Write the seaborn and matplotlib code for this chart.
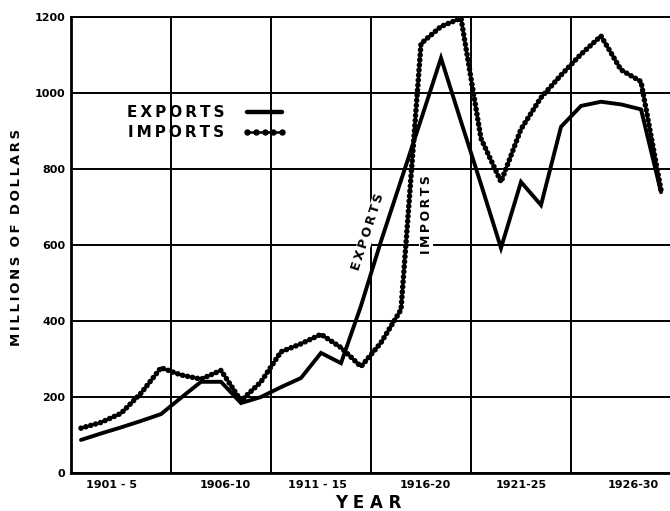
import matplotlib
matplotlib.use("Agg")
import matplotlib.pyplot as plt
from matplotlib.lines import Line2D
import pandas as pd
import seaborn as sns

# Annual merchandise trade, millions of dollars
years = list(range(1901, 1931))
exports = [87, 104, 120, 137, 155, 198, 240, 240, 184, 200,
           226, 250, 316, 289, 440, 610, 770, 930, 1092, 925,
           760, 592, 766, 705, 911, 966, 977, 970, 957, 739]
imports = [118, 133, 157, 210, 277, 258, 247, 270, 190, 240,
           319, 340, 365, 330, 280, 343, 430, 1130, 1175, 1197,
           880, 766, 905, 988, 1047, 1102, 1150, 1061, 1030, 745]

period_labels = ["1901 - 5", "1906-10", "1911 - 15", "1916-20", "1921-25", "1926-30"]
period_label_pos = [1902.5, 1908.2, 1912.8, 1918.2, 1923.0, 1928.6]
period_edges = [1905.5, 1910.5, 1915.5, 1920.5, 1925.5]
y_ticks = [0, 200, 400, 600, 800, 1000, 1200]

sns.set_theme(style="white")
plt.rcParams["font.family"] = ["DejaVu Sans"]
plt.rcParams["text.color"] = "black"


def spaced(s):
    """Letter-space a caption with thin spaces, keeping wider gaps between words."""
    return "  ".join("\u2009".join(word) for word in s.split(" "))


df = pd.DataFrame({"year": years, "exports": exports, "imports": imports})

fig = plt.figure(figsize=(6.7, 5.11), dpi=100)
ax = fig.add_axes([71 / 670, 38 / 511, 599 / 670, 456 / 511])

# Exports: heavy solid line
sns.lineplot(data=df, x="year", y="exports", ax=ax, color="black",
             linewidth=2.8, legend=False, zorder=4)
ax.lines[-1].set_solid_joinstyle("miter")

# Imports: a chain of beads over a thin connecting line
sns.lineplot(data=df, x="year", y="imports", ax=ax, color="black",
             linewidth=1.8, legend=False, zorder=4)
sns.lineplot(data=df, x="year", y="imports", ax=ax, color="black",
             linewidth=4.0, linestyle=(0, (0.01, 0.9)), legend=False, zorder=4)
ax.lines[-1].set_dash_capstyle("round")

ax.set_xlim(1900.5, 1930.45)
ax.set_ylim(0, 1200)
ax.set_yticks(y_ticks)
ax.set_yticklabels([str(v) for v in y_ticks], fontsize=8, fontweight="bold")
ax.set_xticks(period_label_pos)
ax.set_xticklabels(period_labels, fontsize=8, fontweight="bold")
ax.set_xticks(period_edges, minor=True)
ax.tick_params(axis="x", which="both", length=0, pad=5, colors="black")
ax.tick_params(axis="y", length=3, width=1.5, pad=1, colors="black")

ax.grid(False)
ax.grid(which="minor", axis="x", color="black", linewidth=1.4, zorder=1)
ax.grid(which="major", axis="y", color="black", linewidth=1.4, zorder=1)

for side in ["left", "bottom"]:
    ax.spines[side].set_linewidth(2.0)
    ax.spines[side].set_color("black")
ax.spines["top"].set_linewidth(1.4)
ax.spines["top"].set_color("black")
ax.spines["right"].set_visible(False)

ax.set_xlabel("")
ax.set_ylabel("")

# Curve annotations
label_style = dict(fontsize=9, fontweight="bold", color="black", zorder=3,
                   ha="center", va="center",
                   bbox=dict(facecolor="white", edgecolor="none", pad=0.3))
ax.text(1915.35, 634, spaced("EXPORTS"), rotation=72, **label_style)
ax.text(1918.25, 679, spaced("IMPORTS"), rotation=90, **label_style)

# Key
exp_key = Line2D([], [], color="black", linewidth=3.2)
imp_key = Line2D([], [], color="black", linewidth=1.8, marker="o",
                 markersize=4.6, markeredgewidth=0)
leg = ax.legend(handles=[exp_key, imp_key],
                labels=[spaced("EXPORTS"), spaced("IMPORTS")],
                loc="upper left", bbox_to_anchor=(0.093, 0.806),
                frameon=False, markerfirst=False, numpoints=5,
                prop=dict(size=11, weight="bold"),
                handlelength=2.9, handletextpad=1.2, labelspacing=0.32,
                borderpad=0, borderaxespad=0)
for t in leg.get_texts():
    t.set_color("black")

fig.text(17 / 670, 1 - 237 / 511, spaced("MILLIONS OF DOLLARS"),
         rotation=90, ha="center", va="center", fontsize=9.5, fontweight="bold")
fig.text(368 / 670, 1 - 503 / 511, "Y E A R", ha="center", va="center",
         fontsize=12, fontweight="bold")

fig.savefig("out.png", dpi=100)
